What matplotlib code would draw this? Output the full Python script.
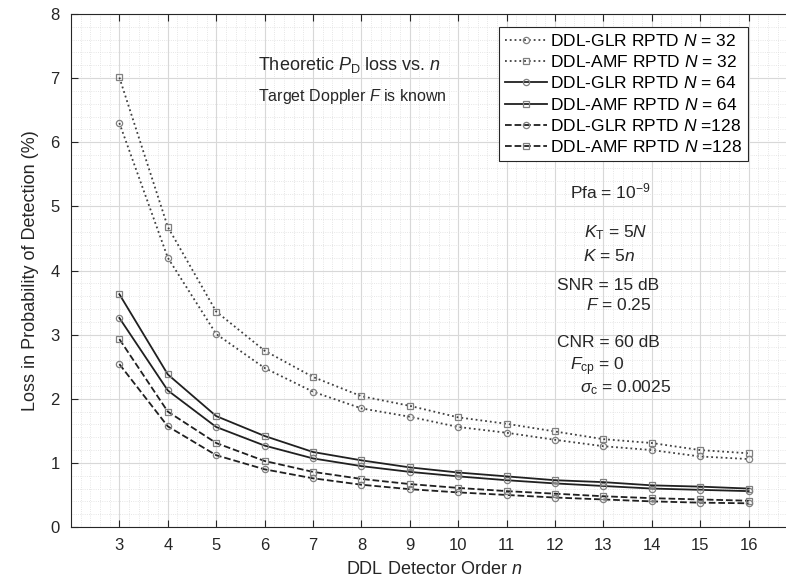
import numpy as np
import matplotlib
matplotlib.use("Agg")
import matplotlib.pyplot as plt
from matplotlib.ticker import MultipleLocator

plt.rcParams['font.family'] = ['Liberation Sans', 'DejaVu Sans']
plt.rcParams['mathtext.fontset'] = 'custom'
plt.rcParams['mathtext.rm'] = 'Liberation Sans'
plt.rcParams['mathtext.it'] = 'Liberation Sans:italic'

n = [3, 4, 5, 6, 7, 8, 9, 10, 11, 12, 13, 14, 15, 16]

glr32 = [6.30, 4.20, 3.01, 2.48, 2.11, 1.85, 1.72, 1.56, 1.47, 1.36, 1.26, 1.20, 1.10, 1.06]
amf32 = [7.01, 4.68, 3.36, 2.75, 2.34, 2.04, 1.89, 1.71, 1.61, 1.49, 1.37, 1.31, 1.20, 1.15]
glr64 = [3.26, 2.13, 1.56, 1.27, 1.07, 0.95, 0.86, 0.79, 0.73, 0.68, 0.64, 0.60, 0.58, 0.56]
amf64 = [3.63, 2.38, 1.73, 1.42, 1.17, 1.04, 0.93, 0.85, 0.79, 0.73, 0.70, 0.65, 0.63, 0.60]
glr128 = [2.54, 1.57, 1.12, 0.90, 0.76, 0.66, 0.59, 0.54, 0.50, 0.46, 0.43, 0.40, 0.38, 0.37]
amf128 = [2.93, 1.80, 1.31, 1.03, 0.86, 0.75, 0.67, 0.61, 0.56, 0.52, 0.48, 0.45, 0.43, 0.41]

fig = plt.figure(figsize=(7.86, 5.83), dpi=100)
ax = fig.add_axes([0.0903, 0.096, 0.9237, 0.880])

mk = dict(markersize=4.5, markerfacecolor='none', markeredgecolor='#808080', markeredgewidth=0.9)
ax.plot(n, glr32, ':', color='#404040', lw=1.3, marker='o', label='DDL-GLR RPTD $N$ = 32', **mk)
ax.plot(n, amf32, ':', color='#404040', lw=1.3, marker='s', label='DDL-AMF RPTD $N$ = 32', **mk)
ax.plot(n, glr64, '-', color='#202020', lw=1.3, marker='o', label='DDL-GLR RPTD $N$ = 64', **mk)
ax.plot(n, amf64, '-', color='#202020', lw=1.3, marker='s', label='DDL-AMF RPTD $N$ = 64', **mk)
ax.plot(n, glr128, '--', color='#202020', lw=1.3, marker='o', label='DDL-GLR RPTD $N$ =128', **mk)
ax.plot(n, amf128, '--', color='#202020', lw=1.3, marker='s', label='DDL-AMF RPTD $N$ =128', **mk)

ax.set_xlim(2, 17)
ax.set_ylim(0, 8)
ax.set_xticks(n)
ax.xaxis.set_minor_locator(MultipleLocator(0.2))
ax.yaxis.set_minor_locator(MultipleLocator(0.2))
ax.grid(which='major', color='#d8d8d8', lw=0.8)
ax.grid(which='minor', color='#dedede', lw=0.6, ls=':')
ax.set_axisbelow(True)
ax.tick_params(which='both', direction='in', top=True, right=True, labelsize=12, colors='#262626')
ax.tick_params(which='minor', length=0)
ax.tick_params(which='major', length=5, pad=8)
for s in ax.spines.values():
    s.set_color('#262626')
    s.set_linewidth(0.8)

ax.set_xlabel('DDL Detector Order $n$', fontsize=13, color='#262626', labelpad=6)
ax.set_ylabel('Loss in Probability of Detection (%)', fontsize=13, color='#262626', labelpad=8)

leg = ax.legend(loc='upper right', bbox_to_anchor=(0.9325, 0.9747), fontsize=12.5,
                handlelength=2.4, handletextpad=0.2, labelspacing=0.3,
                borderpad=0.35, borderaxespad=0, fancybox=False, framealpha=1)
leg.get_frame().set_edgecolor('#262626')
leg.get_frame().set_linewidth(0.8)

tc = '#262626'
ax.text(5.86, 7.12, 'Theoretic $P_{\\mathrm{D}}$ loss vs. $n$', fontsize=13, color=tc)
ax.text(5.86, 6.65, 'Target Doppler $F$ is known', fontsize=11.5, color=tc)
ax.text(12.3, 5.13, 'Pfa = 10$^{-9}$', fontsize=12.5, color=tc)
ax.text(12.6, 4.52, '$K_{\\mathrm{T}}$ = 5$N$', fontsize=12.5, color=tc)
ax.text(12.58, 4.15, '$K$ = 5$n$', fontsize=12.5, color=tc)
ax.text(12.04, 3.7, 'SNR = 15 dB', fontsize=12.5, color=tc)
ax.text(12.64, 3.38, '$F$ = 0.25', fontsize=12.5, color=tc)
ax.text(12.04, 2.8, 'CNR = 60 dB', fontsize=12.5, color=tc)
ax.text(12.31, 2.45, '$F_{\\mathrm{cp}}$ = 0', fontsize=12.5, color=tc)
ax.text(12.52, 2.1, '$\\sigma_{\\mathrm{c}}$ = 0.0025', fontsize=12.5, color=tc)

fig.savefig('out.png', dpi=100)
